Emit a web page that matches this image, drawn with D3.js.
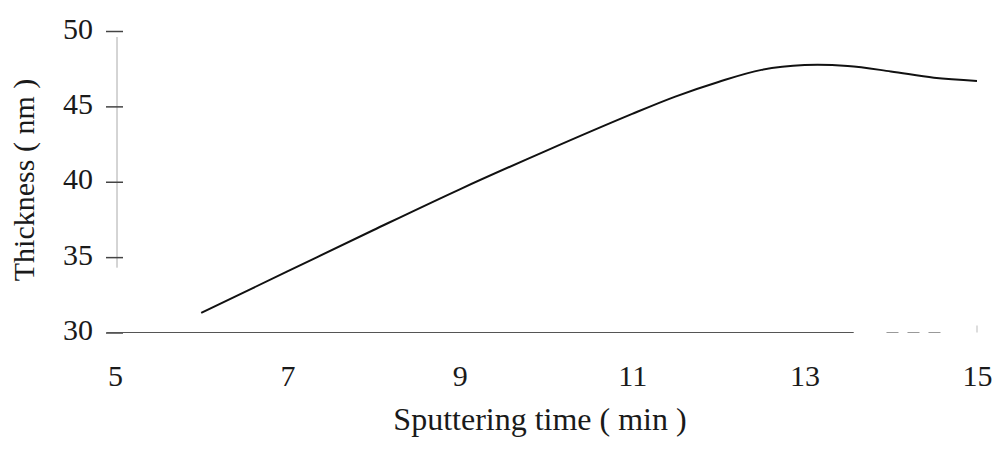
<!DOCTYPE html>
<html>
<head>
<meta charset="utf-8">
<script src="https://cdn.jsdelivr.net/npm/d3@7"></script>
<style>
  body { margin: 0; background: #fff; }
  svg { display: block; }
  text { font-family: "Liberation Serif", "Times New Roman", serif; fill: #1a1a1a; }
</style>
</head>
<body>
<svg id="chart"></svg>
<script>
// values
let times = [6.0, 7, 8, 9, 10, 11, 11.5, 12, 12.5, 13, 13.5, 14, 14.5, 15];
let thickness = [31.3, 34.05, 36.8, 39.5, 42.05, 44.5, 45.65, 46.62, 47.42, 47.74, 47.68, 47.32, 46.9, 46.69];
let xTicks = [5, 7, 9, 11, 13, 15];
let yTicks = [30, 35, 40, 45, 50];
let xTitle = "Sputtering time ( min )";
let yTitle = "Thickness ( nm )";

function getConfig() {
  let width = 995;
  let height = 449;
  let container = d3.select("#chart")
    .attr("width", width)
    .attr("height", height);
  return { width, height, container };
}

function getScales() {
  let xScale = d3.scaleLinear().domain([5, 15]).range([115, 977]);
  let yScale = d3.scaleLinear().domain([30, 50]).range([332.5, 31]);
  return { xScale, yScale };
}

function drawAxes(scales, config) {
  let { xScale, yScale } = scales;
  let { container } = config;

  // faint vertical axis line
  container.append("line")
    .attr("x1", 117).attr("x2", 117)
    .attr("y1", yScale(49.6)).attr("y2", yScale(34.3))
    .attr("stroke", "#aaa")
    .attr("stroke-width", 1);

  let axisY = d3.axisLeft(yScale)
    .tickValues(yTicks)
    .tickSize(17)
    .tickPadding(13);

  let gY = container.append("g")
    .attr("transform", "translate(123,0)")
    .call(axisY);
  gY.select(".domain").remove();
  gY.selectAll(".tick line")
    .attr("stroke", "#444")
    .attr("stroke-width", 1.5);
  gY.selectAll(".tick text")
    .attr("dy", "0.24em")
    .style("font-size", "30px");

  // horizontal axis line (solid, then broken near the end)
  container.append("line")
    .attr("x1", 107).attr("x2", xScale(13.57))
    .attr("y1", yScale(30)).attr("y2", yScale(30))
    .attr("stroke", "#555")
    .attr("stroke-width", 1);
  container.append("line")
    .attr("x1", xScale(13.95)).attr("x2", xScale(14.65))
    .attr("y1", yScale(30)).attr("y2", yScale(30))
    .attr("stroke", "#999")
    .attr("stroke-dasharray", "12,9");
  container.append("line")
    .attr("x1", xScale(15)).attr("x2", xScale(15))
    .attr("y1", yScale(30) - 7).attr("y2", yScale(30))
    .attr("stroke", "#bbb");

  let axisX = d3.axisBottom(xScale)
    .tickValues(xTicks)
    .tickSize(0);

  let gX = container.append("g")
    .attr("transform", `translate(0,${yScale(30)})`)
    .call(axisX);
  gX.select(".domain").remove();
  gX.selectAll(".tick text")
    .attr("y", 53)
    .attr("dy", 0)
    .style("font-size", "30px");

  container.append("text")
    .attr("x", 540)
    .attr("y", 430)
    .attr("text-anchor", "middle")
    .style("font-size", "32px")
    .text(xTitle);

  container.append("text")
    .attr("transform", "translate(34,180) rotate(-90)")
    .attr("text-anchor", "middle")
    .style("font-size", "30px")
    .text(yTitle);
}

function drawLine(scales, config) {
  let { xScale, yScale } = scales;
  let { container } = config;
  let points = times.map((t, i) => ({ t, v: thickness[i] }));

  let line = d3.line()
    .x(d => xScale(d.t))
    .y(d => yScale(d.v))
    .curve(d3.curveCatmullRom.alpha(0.5));

  container.append("path")
    .datum(points)
    .attr("d", line)
    .attr("fill", "none")
    .attr("stroke", "#111")
    .attr("stroke-width", 2);
}

let config = getConfig();
let scales = getScales();
drawAxes(scales, config);
drawLine(scales, config);
</script>
</body>
</html>
